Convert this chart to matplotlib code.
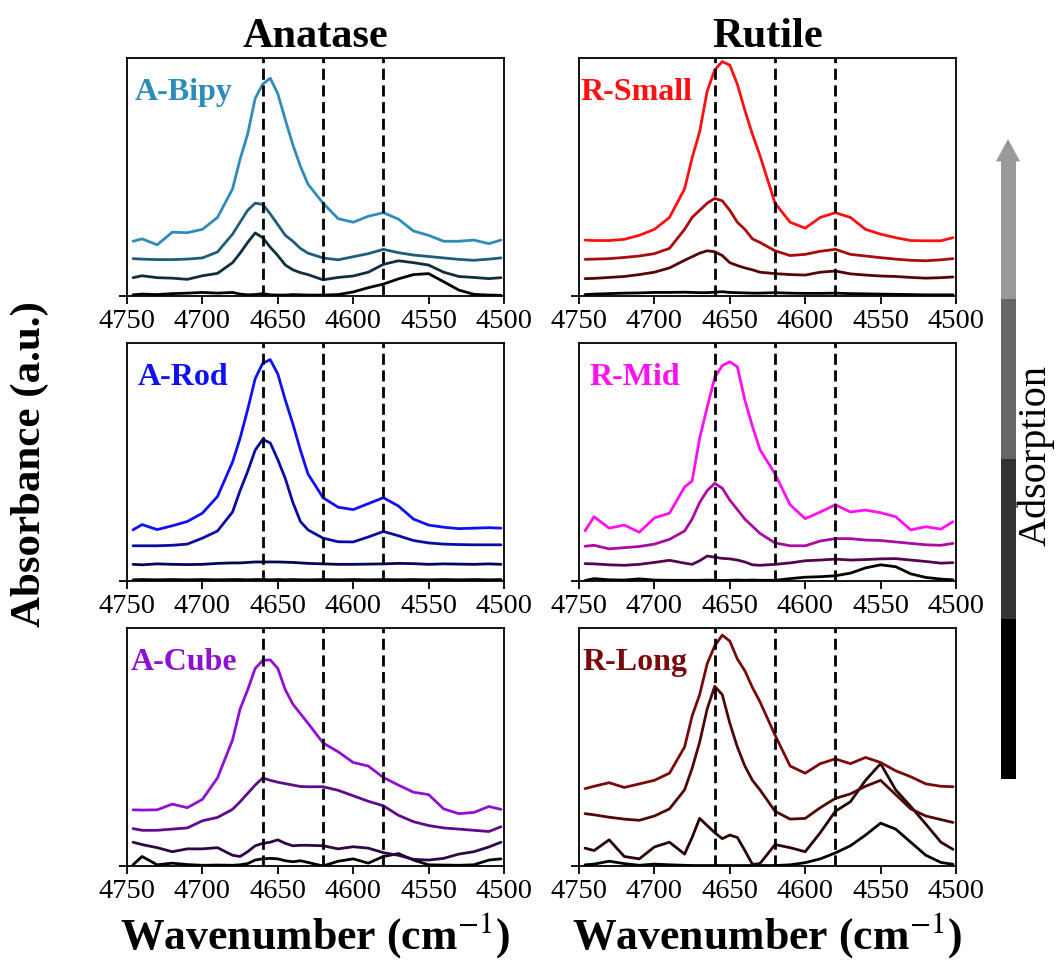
import matplotlib
matplotlib.use("Agg")
import matplotlib.pyplot as plt
import numpy as np
from matplotlib.colors import to_rgb

plt.rcParams['font.family'] = ['Liberation Serif', 'DejaVu Serif']
plt.rcParams['mathtext.fontset'] = 'stix'

# ---------------- data ----------------
wn = [4746, 4740, 4730, 4720, 4710, 4700, 4690, 4680, 4675, 4670, 4665, 4660, 4655, 4650, 4645,
      4640, 4635, 4630, 4620, 4610, 4600, 4590, 4580, 4570, 4560, 4550, 4540, 4530, 4520, 4510, 4502]

guide_lines = [4660, 4620, 4580]
xticks = [4750, 4700, 4650, 4600, 4550, 4500]

# A-Bipy (bottom -> top adsorption steps)
bipy_0 = [0.005, 0.008, 0.006, 0.010, 0.012, 0.015, 0.012, 0.015, 0.008, 0.005, 0.006, 0.010, 0.005, 0.004, 0.004,
          0.006, 0.005, 0.004, 0.004, 0.006, 0.017, 0.035, 0.050, 0.072, 0.090, 0.094, 0.060, 0.025, 0.007, 0.004, 0.003]
bipy_1 = [0.077, 0.085, 0.077, 0.075, 0.070, 0.085, 0.095, 0.140, 0.180, 0.225, 0.265, 0.245, 0.205, 0.170, 0.130,
          0.110, 0.098, 0.090, 0.068, 0.078, 0.084, 0.100, 0.133, 0.148, 0.140, 0.130, 0.100, 0.082, 0.078, 0.073, 0.077]
bipy_2 = [0.157, 0.155, 0.153, 0.153, 0.155, 0.160, 0.185, 0.260, 0.310, 0.360, 0.390, 0.385, 0.345, 0.300, 0.255,
          0.230, 0.200, 0.180, 0.160, 0.152, 0.165, 0.178, 0.196, 0.182, 0.172, 0.166, 0.160, 0.154, 0.150, 0.155, 0.160]
bipy_3 = [0.230, 0.240, 0.215, 0.268, 0.266, 0.280, 0.330, 0.450, 0.575, 0.680, 0.830, 0.890, 0.915, 0.850, 0.740,
          0.635, 0.545, 0.470, 0.390, 0.325, 0.310, 0.335, 0.350, 0.323, 0.273, 0.255, 0.230, 0.230, 0.235, 0.220, 0.235]

# A-Rod
rod_0 = [0.005, 0.006, 0.005, 0.006, 0.005, 0.006, 0.005, 0.006, 0.006, 0.005, 0.006, 0.006, 0.005, 0.006, 0.005,
         0.006, 0.005, 0.005, 0.006, 0.005, 0.006, 0.005, 0.006, 0.005, 0.006, 0.005, 0.006, 0.005, 0.006, 0.005, 0.006]
rod_1 = [0.070, 0.068, 0.072, 0.070, 0.069, 0.070, 0.074, 0.076, 0.076, 0.078, 0.080, 0.080, 0.080, 0.080, 0.079,
         0.078, 0.076, 0.074, 0.072, 0.070, 0.070, 0.071, 0.072, 0.074, 0.073, 0.070, 0.072, 0.071, 0.070, 0.072, 0.070]
rod_2 = [0.148, 0.148, 0.148, 0.150, 0.155, 0.180, 0.210, 0.290, 0.380, 0.460, 0.550, 0.595, 0.580, 0.510, 0.430,
         0.330, 0.250, 0.215, 0.180, 0.165, 0.164, 0.185, 0.208, 0.190, 0.170, 0.160, 0.155, 0.153, 0.152, 0.152, 0.152]
rod_3 = [0.215, 0.237, 0.216, 0.232, 0.250, 0.285, 0.355, 0.500, 0.600, 0.720, 0.850, 0.915, 0.930, 0.870, 0.760,
         0.660, 0.550, 0.450, 0.350, 0.310, 0.300, 0.325, 0.350, 0.315, 0.260, 0.235, 0.226, 0.220, 0.222, 0.224, 0.222]

# A-Cube
cube_0 = [0.005, 0.040, 0.005, 0.012, 0.006, 0.003, 0.004, 0.003, 0.005, 0.010, 0.025, 0.030, 0.032, 0.030, 0.022,
          0.018, 0.022, 0.015, 0.000, 0.020, 0.030, 0.012, 0.040, 0.052, 0.025, 0.005, 0.004, 0.003, 0.005, 0.025, 0.030]
cube_1 = [0.100, 0.090, 0.077, 0.060, 0.072, 0.072, 0.077, 0.045, 0.040, 0.060, 0.085, 0.095, 0.100, 0.110, 0.095,
          0.085, 0.087, 0.087, 0.085, 0.072, 0.081, 0.075, 0.056, 0.045, 0.028, 0.025, 0.032, 0.050, 0.060, 0.080, 0.100]
cube_2 = [0.157, 0.150, 0.150, 0.155, 0.160, 0.190, 0.204, 0.238, 0.270, 0.305, 0.340, 0.370, 0.360, 0.352, 0.346,
          0.340, 0.334, 0.333, 0.333, 0.318, 0.295, 0.272, 0.253, 0.213, 0.186, 0.170, 0.160, 0.155, 0.150, 0.145, 0.165]
cube_3 = [0.236, 0.235, 0.236, 0.260, 0.245, 0.280, 0.370, 0.530, 0.660, 0.740, 0.830, 0.864, 0.866, 0.830, 0.740,
          0.680, 0.640, 0.600, 0.517, 0.480, 0.435, 0.420, 0.372, 0.340, 0.310, 0.300, 0.240, 0.220, 0.225, 0.250, 0.238]

# R-Small
small_0 = [0.006, 0.008, 0.010, 0.012, 0.013, 0.015, 0.015, 0.016, 0.015, 0.014, 0.014, 0.016, 0.018, 0.015, 0.014,
           0.013, 0.012, 0.012, 0.014, 0.012, 0.011, 0.011, 0.012, 0.010, 0.009, 0.008, 0.007, 0.006, 0.005, 0.005, 0.005]
small_1 = [0.073, 0.074, 0.078, 0.082, 0.090, 0.100, 0.118, 0.150, 0.165, 0.180, 0.190, 0.186, 0.170, 0.140, 0.128,
           0.118, 0.110, 0.100, 0.094, 0.090, 0.088, 0.100, 0.105, 0.093, 0.088, 0.084, 0.082, 0.078, 0.075, 0.077, 0.080]
small_2 = [0.154, 0.155, 0.157, 0.162, 0.168, 0.178, 0.200, 0.280, 0.330, 0.360, 0.390, 0.410, 0.400, 0.360, 0.310,
           0.280, 0.240, 0.225, 0.190, 0.170, 0.175, 0.188, 0.196, 0.175, 0.168, 0.161, 0.155, 0.150, 0.148, 0.152, 0.157]
small_3 = [0.235, 0.233, 0.233, 0.238, 0.255, 0.280, 0.330, 0.450, 0.580, 0.690, 0.860, 0.950, 0.985, 0.970, 0.890,
           0.780, 0.680, 0.590, 0.390, 0.310, 0.285, 0.330, 0.350, 0.330, 0.280, 0.260, 0.245, 0.233, 0.232, 0.232, 0.245]

# R-Mid
mid_0 = [0.002, 0.010, 0.005, 0.004, 0.009, 0.004, 0.003, 0.003, 0.003, 0.003, 0.004, 0.003, 0.002, 0.003, 0.004,
         0.003, 0.004, 0.003, 0.003, 0.010, 0.016, 0.018, 0.022, 0.033, 0.055, 0.068, 0.060, 0.030, 0.015, 0.008, 0.005]
mid_1 = [0.073, 0.072, 0.068, 0.066, 0.070, 0.078, 0.087, 0.075, 0.070, 0.085, 0.105, 0.100, 0.095, 0.093, 0.088,
         0.080, 0.068, 0.066, 0.070, 0.076, 0.085, 0.088, 0.092, 0.088, 0.090, 0.093, 0.094, 0.088, 0.082, 0.075, 0.077]
mid_2 = [0.146, 0.150, 0.135, 0.140, 0.145, 0.155, 0.175, 0.210, 0.260, 0.330, 0.380, 0.410, 0.390, 0.340, 0.300,
         0.260, 0.230, 0.200, 0.160, 0.148, 0.148, 0.168, 0.178, 0.178, 0.172, 0.170, 0.164, 0.158, 0.152, 0.150, 0.158]
mid_3 = [0.211, 0.270, 0.222, 0.235, 0.205, 0.265, 0.285, 0.395, 0.420, 0.600, 0.730, 0.855, 0.905, 0.921, 0.900,
         0.760, 0.650, 0.552, 0.450, 0.320, 0.262, 0.290, 0.320, 0.290, 0.298, 0.287, 0.270, 0.215, 0.228, 0.218, 0.249]

# R-Long
long_0 = [0.005, 0.008, 0.020, 0.010, 0.003, 0.008, 0.005, 0.003, 0.002, 0.002, 0.002, 0.002, 0.002, 0.002, 0.002,
          0.002, 0.002, 0.002, 0.002, 0.005, 0.014, 0.030, 0.055, 0.085, 0.130, 0.180, 0.155, 0.100, 0.045, 0.015, 0.007]
long_1 = [0.075, 0.065, 0.110, 0.040, 0.030, 0.080, 0.100, 0.050, 0.120, 0.200, 0.170, 0.140, 0.115, 0.130, 0.120,
          0.065, 0.007, 0.010, 0.090, 0.077, 0.060, 0.140, 0.230, 0.270, 0.360, 0.430, 0.320, 0.250, 0.176, 0.100, 0.070]
long_2 = [0.220, 0.215, 0.205, 0.197, 0.192, 0.210, 0.240, 0.320, 0.410, 0.520, 0.660, 0.755, 0.720, 0.600, 0.500,
          0.420, 0.360, 0.320, 0.230, 0.197, 0.200, 0.245, 0.284, 0.303, 0.335, 0.360, 0.300, 0.240, 0.210, 0.195, 0.183]
long_3 = [0.325, 0.335, 0.350, 0.330, 0.345, 0.360, 0.390, 0.500, 0.630, 0.720, 0.850, 0.925, 0.970, 0.945, 0.870,
          0.820, 0.750, 0.690, 0.550, 0.420, 0.390, 0.430, 0.450, 0.430, 0.456, 0.435, 0.400, 0.375, 0.345, 0.335, 0.333]

panel_names = ['A-Bipy', 'A-Rod', 'A-Cube', 'R-Small', 'R-Mid', 'R-Long']
panel_colors = ['#2E8CB8', '#1010F5', '#9010D0', '#FF1010', '#FF10F0', '#7A0A0A']
panel_series = [
    [bipy_0, bipy_1, bipy_2, bipy_3],
    [rod_0, rod_1, rod_2, rod_3],
    [cube_0, cube_1, cube_2, cube_3],
    [small_0, small_1, small_2, small_3],
    [mid_0, mid_1, mid_2, mid_3],
    [long_0, long_1, long_2, long_3],
]
label_x = [0.021, 0.029, 0.011, 0.003, 0.029, 0.008]
column_titles = ['Anatase', 'Rutile']
step_levels = [0.0, 1 / 3, 2 / 3, 1.0]
bar_colors = ['#000000', '#333333', '#666666', '#999999']

# ---------------- figure ----------------
W, H = 1057, 962
fig = plt.figure(figsize=(W / 100, H / 100), dpi=100)

col_x = [127 / W, 579 / W]
ax_w = 377 / W
row_top = [59, 344, 629]
ax_h = 238 / H

axes = []
for c in range(2):
    for r in range(3):
        ax = fig.add_axes([col_x[c], 1 - (row_top[r] + 238) / H, ax_w, ax_h])
        axes.append(ax)

for i, ax in enumerate(axes):
    base = np.array(to_rgb(panel_colors[i]))
    for lev, ser in zip(step_levels, panel_series[i]):
        ax.plot(wn, ser, color=tuple(base * lev), lw=2.0, zorder=2,
                solid_joinstyle='round', solid_capstyle='round')
    for g in guide_lines:
        ax.axvline(g, color='k', lw=2.0, ls=(0, (4, 2)), zorder=3)
    ax.set_xlim(4750, 4500)
    ax.set_ylim(0, 1.0)
    ax.set_xticks(xticks)
    ax.set_xticklabels([str(t) for t in xticks])
    ax.set_yticks([0])
    ax.set_yticklabels([''])
    ax.tick_params(axis='both', direction='out', length=6, width=1.3, labelsize=20.5, pad=3)
    for s in ax.spines.values():
        s.set_linewidth(1.3)
    ax.text(label_x[i], 0.828, panel_names[i], transform=ax.transAxes, color=panel_colors[i],
            fontsize=23, fontweight='bold', ha='left', va='baseline')

for c in range(2):
    cx = col_x[c] + ax_w / 2
    fig.text(cx, 1 - 47 / H, column_titles[c], fontsize=30.5, fontweight='bold', ha='center', va='baseline')
    fig.text(cx, 1 - 949 / H, r'Wavenumber (cm$^{-1}$)', fontsize=31.5, fontweight='bold',
             ha='center', va='baseline')

fig.text(30 / W, 1 - 464 / H, 'Absorbance (a.u.)', fontsize=31, fontweight='bold',
         rotation=90, ha='center', va='center')

# adsorption arrow bar
bax = fig.add_axes([994 / W, 1 - 780 / H, 28 / W, 640 / H])
bax.set_xlim(0, 1)
bax.set_ylim(0, 4)
bax.axis('off')
seg_h = [1, 1, 1, 0.86]
bottoms = np.concatenate([[0], np.cumsum(seg_h)[:-1]])
bax.bar([0.5] * 4, seg_h, bottom=bottoms, width=15 / 28, color=bar_colors, linewidth=0)
top = bottoms[-1] + seg_h[-1]
bax.fill([0.5 - 12 / 28, 0.5 + 12 / 28, 0.5], [top, top, 4.0], color=bar_colors[-1], lw=0)
fig.text(1036 / W, 1 - 456 / H, 'Adsorption', fontsize=29, rotation=90, ha='center', va='center')

fig.savefig('out.png', dpi=100)
